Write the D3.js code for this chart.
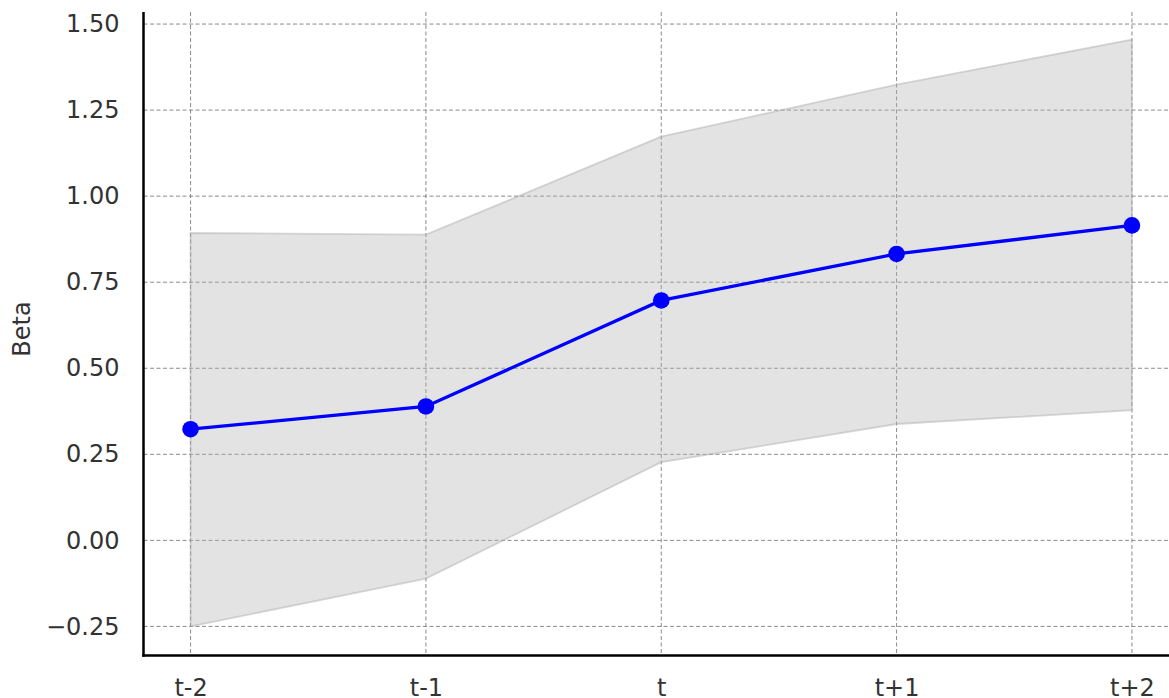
<!DOCTYPE html>
<html>
<head>
<meta charset="utf-8">
<script src="https://cdn.jsdelivr.net/npm/d3@7"></script>
<style>
  html, body { margin: 0; padding: 0; background: #fff; }
  svg { display: block; }
</style>
</head>
<body>
<svg id="chart" width="1169" height="698"></svg>
<script>
// Event-window estimates with confidence band
const periods = ["t-2", "t-1", "t", "t+1", "t+2"];
const beta = [0.323, 0.389, 0.697, 0.832, 0.915];
const upper = [0.893, 0.888, 1.173, 1.324, 1.455];
const lower = [-0.250, -0.111, 0.227, 0.338, 0.378];
const yTicks = [-0.25, 0.00, 0.25, 0.50, 0.75, 1.00, 1.25, 1.50];

const svg = d3.select("#chart");
const plotLeft = 143.5, plotRight = 1179, plotTop = 12, plotBottom = 655.5;

const x = d3.scaleLinear().domain([-0.2, periods.length - 1 + 0.2]).range([plotLeft, plotRight]);
const y = d3.scaleLinear().domain([-0.3345, 1.535]).range([plotBottom, plotTop]);

const font = "DejaVu Sans, sans-serif";

// Gridlines
const grid = svg.append("g");
grid.selectAll("line.h").data(yTicks).join("line")
  .attr("x1", plotLeft).attr("x2", plotRight)
  .attr("y1", d => y(d)).attr("y2", d => y(d))
  .attr("stroke", "#8a8a8a").attr("stroke-width", 1).attr("stroke-dasharray", "4,2.5");
grid.selectAll("line.v").data(periods).join("line")
  .attr("x1", (d, i) => x(i)).attr("x2", (d, i) => x(i))
  .attr("y1", plotTop).attr("y2", plotBottom)
  .attr("stroke", "#8a8a8a").attr("stroke-width", 1).attr("stroke-dasharray", "4,2.5");

// Confidence band
const band = periods.map((p, i) => ({ i, lo: lower[i], hi: upper[i] }));
svg.append("path").datum(band)
  .attr("d", d3.area().x(d => x(d.i)).y0(d => y(d.lo)).y1(d => y(d.hi)))
  .attr("fill", "#b4b4b4").attr("fill-opacity", 0.37)
  .attr("stroke", "#a8a8a8").attr("stroke-opacity", 0.45).attr("stroke-width", 1.8);

// Estimate line and markers
const pts = beta.map((v, i) => ({ i, v }));
svg.append("path").datum(pts)
  .attr("d", d3.line().x(d => x(d.i)).y(d => y(d.v)))
  .attr("fill", "none").attr("stroke", "#0000ff").attr("stroke-width", 3.3);
svg.selectAll("circle.pt").data(pts).join("circle")
  .attr("cx", d => x(d.i)).attr("cy", d => y(d.v)).attr("r", 8.3)
  .attr("fill", "#0000ff");

// Axes
const yAxis = d3.axisLeft(y).tickValues(yTicks).tickSize(0).tickPadding(24)
  .tickFormat(d => d3.format(".2f")(d).replace("-", "\u2212"));
const gy = svg.append("g").attr("transform", `translate(${plotLeft},0)`).call(yAxis);
gy.select(".domain").remove();
gy.selectAll("text").attr("font-family", font).attr("font-size", 24).attr("fill", "#333");

const xAxis = d3.axisBottom(x).tickValues(d3.range(periods.length)).tickSize(0).tickPadding(23)
  .tickFormat(i => periods[i]);
const gx = svg.append("g").attr("transform", `translate(0,${plotBottom})`).call(xAxis);
gx.select(".domain").remove();
gx.selectAll("text").attr("font-family", font).attr("font-size", 24).attr("fill", "#333");

// Spines
svg.append("line").attr("x1", plotLeft).attr("x2", plotLeft).attr("y1", plotTop).attr("y2", plotBottom + 1.25)
  .attr("stroke", "#000").attr("stroke-width", 2.5);
svg.append("line").attr("x1", plotLeft - 1.25).attr("x2", 1169).attr("y1", plotBottom).attr("y2", plotBottom)
  .attr("stroke", "#000").attr("stroke-width", 2.5);

// Y label
svg.append("text")
  .attr("transform", `translate(30,329) rotate(-90)`)
  .attr("text-anchor", "middle")
  .attr("font-family", font).attr("font-size", 24).attr("fill", "#333")
  .text("Beta");
</script>
</body>
</html>
